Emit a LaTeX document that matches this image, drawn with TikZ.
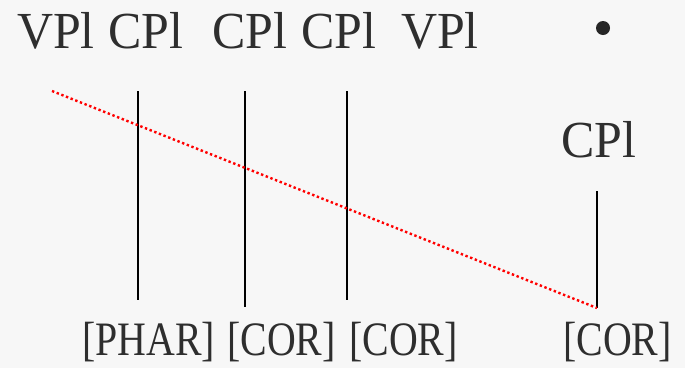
\documentclass[tikz,border=0pt]{standalone}
\usepackage{fontspec}
\setmainfont{Liberation Serif}
\begin{document}
\begin{tikzpicture}[x=1pt,y=-1pt,
  toplab/.style={anchor=base west,inner sep=0pt,text=black!82,xscale=0.96,font=\fontsize{52}{60}\selectfont},
  botlab/.style={anchor=base west,inner sep=0pt,text=black!82,xscale=0.83,font=\fontsize{48}{56}\selectfont},
  assoc/.style={line width=2.8pt,black},
  delink/.style={line width=2.4pt,red,dash pattern=on 2.4pt off 2.6pt}]
\fill[black!3] (0,0) rectangle (685,368);
\useasboundingbox (0,0) rectangle (685,368);
% top row
\node[toplab] (v1) at (17,48) {VPl};
\node[toplab] (c1) at (108,48) {CPl};
\node[toplab] (c2) at (212,48) {CPl};
\node[toplab] (c3) at (301,48) {CPl};
\node[toplab] (v2) at (401,48) {VPl};
\node[circle,fill=black!85,inner sep=0pt,minimum size=14pt] (dot) at (603,28) {};
% right CPl
\node[toplab] (c4) at (561,157) {CPl};
% bottom labels
\node[botlab] (f1) at (82,355) {[PHAR]};
\node[botlab] (f2) at (227,355) {[COR]};
\node[botlab] (f3) at (349,355) {[COR]};
\node[botlab] (f4) at (563,355) {[COR]};
% association line endpoints
\coordinate (a1t) at (138,91);  \coordinate (a1b) at (138,300);
\coordinate (a2t) at (245,91);  \coordinate (a2b) at (245,307);
\coordinate (a3t) at (347,91);  \coordinate (a3b) at (347,300);
\coordinate (a4t) at (597,191); \coordinate (a4b) at (597,308);
\coordinate (rs) at (52,91);
\draw[assoc] (a1t) -- (a1b);
\draw[assoc] (a2t) -- (a2b);
\draw[assoc] (a3t) -- (a3b);
\draw[assoc] (a4t) -- (a4b);
\draw[delink] (rs) -- (a4b);
\end{tikzpicture}
\end{document}
